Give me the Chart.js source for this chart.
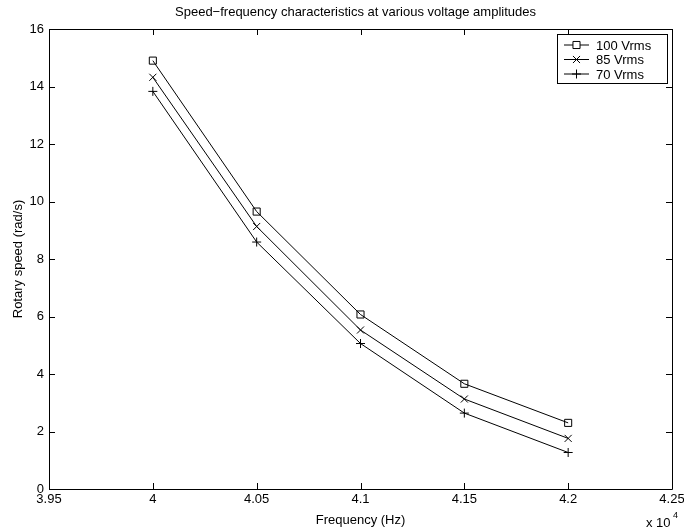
<!DOCTYPE html>
<html>
<head>
<meta charset="utf-8">
<script src="https://cdn.jsdelivr.net/npm/chart.js@4/dist/chart.umd.min.js"></script>
<style>
  html, body { margin: 0; padding: 0; background: #fff; }
  #wrap { width: 684px; height: 531px; }
</style>
</head>
<body>
<div id="wrap"><canvas id="speedChart" width="684" height="531"></canvas></div>
<script>
// Frequency (Hz) and rotary speed (rad/s)
const frequencies = [40000, 40500, 41000, 41500, 42000];
const speed100 = [14.90, 9.65, 6.07, 3.66, 2.30];
const speed85 = [14.32, 9.13, 5.53, 3.13, 1.76];
const speed70 = [13.83, 8.59, 5.06, 2.64, 1.27];
const seriesLabels = ['100 Vrms', '85 Vrms', '70 Vrms'];
const xTicks = [39500, 40000, 40500, 41000, 41500, 42000, 42500];
const yTicks = [0, 2, 4, 6, 8, 10, 12, 14, 16];

const FONT = 'Liberation Sans, Arial, Helvetica, sans-serif';
const markerStyles = [
    { style: 'rect', radius: 5 },
    { style: 'crossRot', radius: 5 },
    { style: 'cross', radius: 4.5 }
];

function toPoints(values) {
    return frequencies.map((f, i) => ({ x: f, y: values[i] }));
}

function makeDataset(label, values, idx) {
    return {
        label: label,
        data: toPoints(values),
        borderColor: '#000',
        borderWidth: 1,
        backgroundColor: 'rgba(0,0,0,0)',
        pointStyle: markerStyles[idx].style,
        pointRadius: markerStyles[idx].radius,
        pointBorderColor: '#000',
        pointBorderWidth: 1,
        pointBackgroundColor: 'rgba(0,0,0,0)',
        tension: 0
    };
}

// Box, inward ticks, title, exponent and legend in MATLAB style
const matlabFrame = {
    id: 'matlabFrame',
    afterDraw(chart) {
        const { ctx, chartArea: a, scales } = chart;
        ctx.save();
        ctx.strokeStyle = '#000';
        ctx.lineWidth = 1;
        ctx.beginPath();
        ctx.rect(Math.round(a.left) + 0.5, Math.round(a.top) + 0.5,
            Math.round(a.right - a.left), Math.round(a.bottom - a.top));
        ctx.stroke();

        const len = 6;
        ctx.beginPath();
        xTicks.forEach(v => {
            const px = Math.round(scales.x.getPixelForValue(v)) + 0.5;
            ctx.moveTo(px, a.bottom); ctx.lineTo(px, a.bottom - len);
            ctx.moveTo(px, a.top); ctx.lineTo(px, a.top + len);
        });
        yTicks.forEach(v => {
            const py = Math.round(scales.y.getPixelForValue(v)) + 0.5;
            ctx.moveTo(a.left, py); ctx.lineTo(a.left + len, py);
            ctx.moveTo(a.right, py); ctx.lineTo(a.right - len, py);
        });
        ctx.stroke();

        // title
        ctx.fillStyle = '#000';
        ctx.font = '13px ' + FONT;
        ctx.textAlign = 'center';
        ctx.textBaseline = 'middle';
        ctx.fillText('Speed\u2212frequency characteristics at various voltage amplitudes',
            (a.left + a.right) / 2 - 5, 12);

        // x 10^4 exponent
        ctx.textAlign = 'left';
        ctx.font = '13px ' + FONT;
        ctx.fillText('x 10', 646, 523);
        ctx.font = '9px ' + FONT;
        ctx.fillText('4', 673, 516);

        // legend
        const bx = 557.5, by = 34.5, bw = 110, bh = 49;
        ctx.fillStyle = '#fff';
        ctx.fillRect(bx, by, bw, bh);
        ctx.strokeRect(bx, by, bw, bh);
        ctx.font = '13px ' + FONT;
        chart.data.datasets.forEach((ds, i) => {
            const y = 45 + i * 14.5;
            ctx.beginPath();
            ctx.moveTo(564, y); ctx.lineTo(589, y);
            ctx.stroke();
            ctx.fillStyle = '#fff';
            Chart.helpers.drawPoint(ctx, {
                pointStyle: ds.pointStyle,
                radius: ds.pointRadius,
                borderWidth: 1,
                rotation: 0
            }, 576.5, y);
            ctx.fillStyle = '#000';
            ctx.fillText(ds.label, 596, y + 1);
        });
        ctx.restore();
    }
};

function initChart() {
    const ctx = document.getElementById('speedChart').getContext('2d');
    Chart.defaults.font.family = FONT;
    Chart.defaults.color = '#000';

    new Chart(ctx, {
        type: 'line',
        data: {
            datasets: [
                makeDataset(seriesLabels[0], speed100, 0),
                makeDataset(seriesLabels[1], speed85, 1),
                makeDataset(seriesLabels[2], speed70, 2)
            ]
        },
        options: {
            responsive: false,
            animation: false,
            layout: { padding: { top: 29, right: 0, left: 0, bottom: 0 } },
            plugins: {
                legend: { display: false },
                title: { display: false },
                tooltip: { enabled: false }
            },
            scales: {
                x: {
                    type: 'linear',
                    min: 39500,
                    max: 42500,
                    afterBuildTicks: s => { s.ticks = xTicks.map(v => ({ value: v })); },
                    afterFit: s => {
                        s.height = 42;
                        s.paddingLeft = 0;
                        s.paddingRight = 12;
                    },
                    grid: { display: false, drawTicks: false },
                    border: { display: false },
                    ticks: {
                        font: { size: 13 },
                        padding: 3,
                        maxRotation: 0,
                        callback: v => String(Math.round(v / 10) / 1000)
                    },
                    title: {
                        display: true,
                        text: 'Frequency (Hz)',
                        font: { size: 13 },
                        padding: { top: 0, bottom: 3 }
                    }
                },
                y: {
                    min: 0,
                    max: 16,
                    afterBuildTicks: s => { s.ticks = yTicks.map(v => ({ value: v })); },
                    afterFit: s => { s.width = 49; },
                    grid: { display: false, drawTicks: false },
                    border: { display: false },
                    ticks: { font: { size: 13 }, padding: 5 },
                    title: {
                        display: true,
                        text: 'Rotary speed (rad/s)',
                        font: { size: 13 },
                        padding: { top: 11, bottom: 0 }
                    }
                }
            }
        },
        plugins: [matlabFrame]
    });
}

window.addEventListener('DOMContentLoaded', initChart);
</script>
</body>
</html>
